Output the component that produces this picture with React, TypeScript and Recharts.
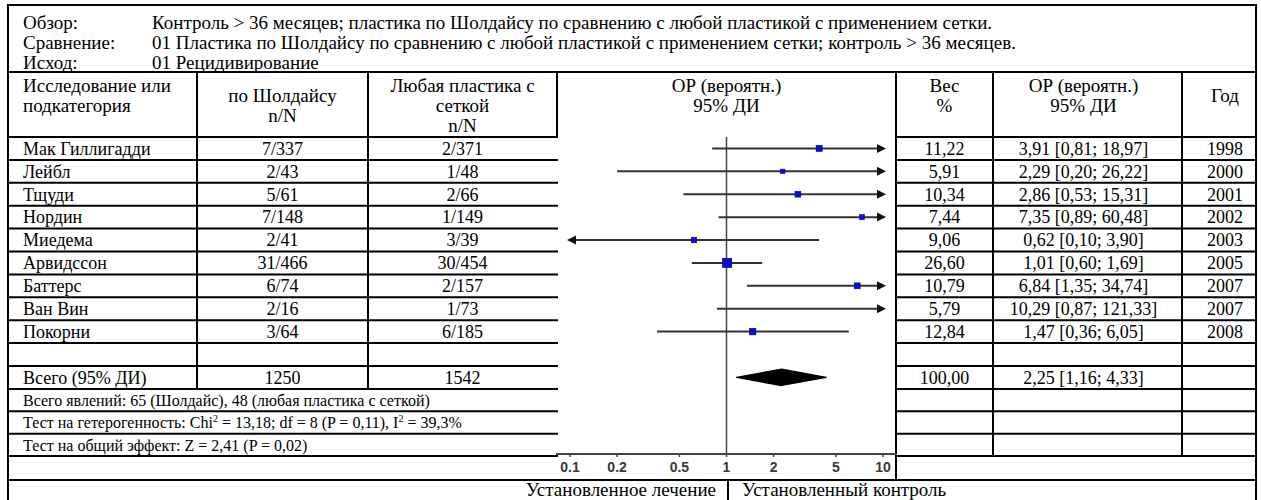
import React from 'react';
import { ComposedChart, Scatter, XAxis, YAxis, ReferenceLine } from 'recharts';

const reviewLabels = ['Обзор:', 'Сравнение:', 'Исход:'];
const reviewTexts = [
  'Контроль > 36 месяцев; пластика по Шолдайсу по сравнению с любой пластикой с применением сетки.',
  '01 Пластика по Шолдайсу по сравнению с любой пластикой с применением сетки; контроль > 36 месяцев.',
  '01 Рецидивирование',
];

const studies = ['Мак Гиллигадди', 'Лейбл', 'Тщуди', 'Нордин', 'Миедема', 'Арвидссон', 'Баттерс', 'Ван Вин', 'Покорни'];
const shouldiceN = ['7/337', '2/43', '5/61', '7/148', '2/41', '31/466', '6/74', '2/16', '3/64'];
const meshN = ['2/371', '1/48', '2/66', '1/149', '3/39', '30/454', '2/157', '1/73', '6/185'];
const weights = [11.22, 5.91, 10.34, 7.44, 9.06, 26.6, 10.79, 5.79, 12.84];
const orValues = [3.91, 2.29, 2.86, 7.35, 0.62, 1.01, 6.84, 10.29, 1.47];
const ciLower = [0.81, 0.2, 0.53, 0.89, 0.1, 0.6, 1.35, 0.87, 0.36];
const ciUpper = [18.97, 26.22, 15.31, 60.48, 3.9, 1.69, 34.74, 121.33, 6.05];
const years = ['1998', '2000', '2001', '2002', '2003', '2005', '2007', '2007', '2008'];

const totalLabels = ['Всего (95% ДИ)', '1250', '1542'];
const totalWeight = 100;
const pooled = { or: 2.25, lower: 1.16, upper: 4.33 };

const axisTicks = [0.1, 0.2, 0.5, 1, 2, 5, 10];
const favours = ['Установленное лечение', 'Установленный контроль'];

// layout
const COLS = [8, 197, 368, 557, 896, 993, 1182, 1256];
const TOP = 5;
const RULE_Y = 72;
const HEAD_Y = 137;
const ROW_H = 22.9;
const N_ROWS = 11;
const STAT_Y = HEAD_Y + ROW_H * N_ROWS;
const STAT_H = 22.4;
const AXIS_Y = STAT_Y + STAT_H * 3;
const FOOT_Y = 480;
const FONT = '"Liberation Serif", "Times New Roman", serif';
const FS = 18;
const HEAD_FS = 19;
const SMALL = 16;
const AX_MIN = 0.0814;
const AX_MAX = 12.29;

const fmt = (v: number) => v.toFixed(2).replace('.', ',');
const rowMid = (i: number) => HEAD_Y + ROW_H * (i + 0.5);
const mid = (a: number, b: number) => (a + b) / 2;

const CiEnd = (props: any) => {
  const { cx, cy, payload } = props;
  if (payload.arrow === 'right')
    return <polygon points={`${cx + 3},${cy} ${cx - 6},${cy - 4.5} ${cx - 6},${cy + 4.5}`} fill="#111" />;
  if (payload.arrow === 'left')
    return <polygon points={`${cx - 3},${cy} ${cx + 6},${cy - 4.5} ${cx + 6},${cy + 4.5}`} fill="#111" />;
  return <g />;
};

const Square = (props: any) => {
  const { cx, cy, payload } = props;
  if (payload.x > 10) return <g />;
  const s = 1.8 * Math.sqrt(payload.w);
  return <rect x={cx - s / 2} y={cy - s / 2} width={s} height={s} fill="#0a0ad0" stroke="#000090" strokeWidth={0.6} />;
};

const Diamond = (p: any) => {
  const pts = (p.points || []).map((q: any) => `${q.x},${q.y}`).join(' ');
  return <polygon points={pts} fill="#000" stroke="#000" strokeWidth={1.5} strokeLinejoin="round" />;
};

const ForestPlot = () => {
  const ciSeries = studies.map((_, i) => [
    { x: Math.max(ciLower[i], 0.1), y: i, arrow: ciLower[i] <= 0.1 ? 'left' : '' },
    { x: Math.min(ciUpper[i], 10), y: i, arrow: ciUpper[i] > 10 ? 'right' : '' },
  ]);
  const points = studies.map((_, i) => ({ x: orValues[i], y: i, w: weights[i] }));
  const diamond = [
    { x: pooled.lower, y: 10 },
    { x: pooled.or, y: 9.65 },
    { x: pooled.upper, y: 10 },
    { x: pooled.or, y: 10.35 },
  ];
  const left = COLS[3] - 5;
  const width = COLS[4] + 1 - left;
  const height = FOOT_Y - HEAD_Y;
  return (
    <div style={{ position: 'absolute', left, top: HEAD_Y, width, height }}>
      <ComposedChart width={width} height={height} margin={{ top: 0, right: 0, bottom: 0, left: 4 }}>
        <XAxis
          type="number"
          dataKey="x"
          scale="log"
          domain={[AX_MIN, AX_MAX]}
          allowDataOverflow
          ticks={axisTicks}
          interval={0}
          tickFormatter={(v: number) => String(v)}
          height={26}
          tickSize={3}
          tickMargin={5}
          axisLine={{ stroke: '#444', strokeWidth: 2 }}
          tickLine={{ stroke: '#444', strokeWidth: 1.5 }}
          tick={{ fill: '#3a3a3a', fontSize: 14, fontFamily: '"Liberation Sans", Arial, sans-serif', fontWeight: 700 }}
        />
        <YAxis type="number" dataKey="y" hide reversed domain={[-0.5, -0.5 + (AXIS_Y - 2 - HEAD_Y) / ROW_H]} allowDataOverflow />
        <ReferenceLine x={1} stroke="#444" strokeWidth={1.5} />
        {ciSeries.map((d, i) => (
          <Scatter
            key={i}
            data={d}
            line={{ stroke: '#333', strokeWidth: 2 }}
            lineType="joint"
            shape={CiEnd}
            isAnimationActive={false}
          />
        ))}
        <Scatter data={points} shape={Square} isAnimationActive={false} />
        <Scatter data={diamond} line={Diamond} lineType="joint" shape={() => <g />} isAnimationActive={false} />
      </ComposedChart>
    </div>
  );
};

const Txt = ({ x, y, children, anchor = 'start', size = FS }: any) => (
  <text x={x} y={y + size * 0.35} textAnchor={anchor} fontSize={size} fontFamily={FONT} fill="#000">
    {children}
  </text>
);

const Table = () => {
  const h: [number, number, number][] = [];
  const v: [number, number, number][] = [];
  const L = COLS[0], R = COLS[7];
  h.push([TOP, L, R], [RULE_Y, L, R], [FOOT_Y, L, R]);
  for (let k = 0; k <= N_ROWS; k++) {
    const y = HEAD_Y + k * ROW_H;
    h.push([y, L, COLS[3]], [y, COLS[4], R]);
  }
  for (let k = 1; k <= 3; k++) {
    const y = STAT_Y + k * STAT_H;
    h.push([y, L, COLS[3]], [y, COLS[4], R]);
  }
  v.push([L, TOP, 500], [R, TOP, 500]);
  v.push([COLS[1], RULE_Y, STAT_Y], [COLS[2], RULE_Y, STAT_Y]);
  v.push([COLS[3], RULE_Y, HEAD_Y], [COLS[4], RULE_Y, FOOT_Y]);
  v.push([COLS[5], RULE_Y, AXIS_Y], [COLS[6], RULE_Y, AXIS_Y]);
  v.push([728, FOOT_Y, 500]);

  const c2 = mid(COLS[1], COLS[2]);
  const c3 = mid(COLS[2], COLS[3]);
  const cp = 726.5;
  const c5 = mid(COLS[4], COLS[5]);
  const c6 = mid(COLS[5], COLS[6]) - 4;
  const c7 = mid(COLS[6], COLS[7]) + 6;
  const tx = 23;
  const H = HEAD_FS;

  return (
    <svg width={1261} height={500} style={{ position: 'absolute', left: 0, top: 0 }}>
      {h.map(([y, a, b], i) => (
        <line key={'h' + i} x1={a - 1} x2={b + 1} y1={y} y2={y} stroke="#000" strokeWidth={2} />
      ))}
      {v.map(([x, a, b], i) => (
        <line key={'v' + i} x1={x} x2={x} y1={a} y2={b} stroke="#000" strokeWidth={2} />
      ))}
      {reviewLabels.map((t, i) => (
        <Txt key={'rl' + i} x={tx} y={22 + i * 20} size={H}>{t}</Txt>
      ))}
      {reviewTexts.map((t, i) => (
        <Txt key={'rt' + i} x={152} y={22 + i * 20} size={H}>{t}</Txt>
      ))}
      <Txt x={tx} y={85} size={H}>Исследование или</Txt>
      <Txt x={tx} y={105} size={H}>подкатегория</Txt>
      <Txt x={c2} y={95} anchor="middle" size={H}>по Шолдайсу</Txt>
      <Txt x={c2} y={115} anchor="middle" size={H}>n/N</Txt>
      <Txt x={c3} y={85} anchor="middle" size={H}>Любая пластика с</Txt>
      <Txt x={c3} y={105} anchor="middle" size={H}>сеткой</Txt>
      <Txt x={c3} y={125} anchor="middle" size={H}>n/N</Txt>
      <Txt x={cp} y={85} anchor="middle" size={H}>ОР (вероятн.)</Txt>
      <Txt x={cp} y={105} anchor="middle" size={H}>95% ДИ</Txt>
      <Txt x={c5} y={85} anchor="middle" size={H}>Вес</Txt>
      <Txt x={c5} y={105} anchor="middle" size={H}>%</Txt>
      <Txt x={c6} y={85} anchor="middle" size={H}>ОР (вероятн.)</Txt>
      <Txt x={c6} y={105} anchor="middle" size={H}>95% ДИ</Txt>
      <Txt x={c7} y={95} anchor="middle" size={H}>Год</Txt>
      {studies.map((s, i) => (
        <g key={'r' + i}>
          <Txt x={tx} y={rowMid(i)}>{s}</Txt>
          <Txt x={c2} y={rowMid(i)} anchor="middle">{shouldiceN[i]}</Txt>
          <Txt x={c3} y={rowMid(i)} anchor="middle">{meshN[i]}</Txt>
          <Txt x={c5} y={rowMid(i)} anchor="middle">{fmt(weights[i])}</Txt>
          <Txt x={c6} y={rowMid(i)} anchor="middle">{`${fmt(orValues[i])} [${fmt(ciLower[i])}; ${fmt(ciUpper[i])}]`}</Txt>
          <Txt x={c7} y={rowMid(i)} anchor="middle">{years[i]}</Txt>
        </g>
      ))}
      <Txt x={tx} y={rowMid(10)}>{totalLabels[0]}</Txt>
      <Txt x={c2} y={rowMid(10)} anchor="middle">{totalLabels[1]}</Txt>
      <Txt x={c3} y={rowMid(10)} anchor="middle">{totalLabels[2]}</Txt>
      <Txt x={c5} y={rowMid(10)} anchor="middle">{fmt(totalWeight)}</Txt>
      <Txt x={c6} y={rowMid(10)} anchor="middle">{`${fmt(pooled.or)} [${fmt(pooled.lower)}; ${fmt(pooled.upper)}]`}</Txt>
      <text x={tx} y={STAT_Y + STAT_H * 0.5 + SMALL * 0.35} fontSize={SMALL} fontFamily={FONT}>
        Всего явлений: 65 (Шолдайс), 48 (любая пластика с сеткой)
      </text>
      <text x={tx} y={STAT_Y + STAT_H * 1.5 + SMALL * 0.35} fontSize={SMALL} fontFamily={FONT}>
        Тест на гетерогенность: Chi<tspan fontSize={10} dy={-6}>2</tspan>
        <tspan dy={6}> = 13,18; df = 8 (P = 0,11), I</tspan>
        <tspan fontSize={10} dy={-6}>2</tspan>
        <tspan dy={6}> = 39,3%</tspan>
      </text>
      <text x={tx} y={STAT_Y + STAT_H * 2.5 + SMALL * 0.35} fontSize={SMALL} fontFamily={FONT}>
        Тест на общий эффект: Z = 2,41 (P = 0,02)
      </text>
      <Txt x={716} y={489} anchor="end" size={19}>{favours[0]}</Txt>
      <Txt x={742} y={489} size={19}>{favours[1]}</Txt>
    </svg>
  );
};

export default function App() {
  return (
    <div style={{ position: 'absolute', left: 0, top: 0, width: 1261, height: 500, background: '#fff', overflow: 'hidden' }}>
      <Table />
      <ForestPlot />
    </div>
  );
}
